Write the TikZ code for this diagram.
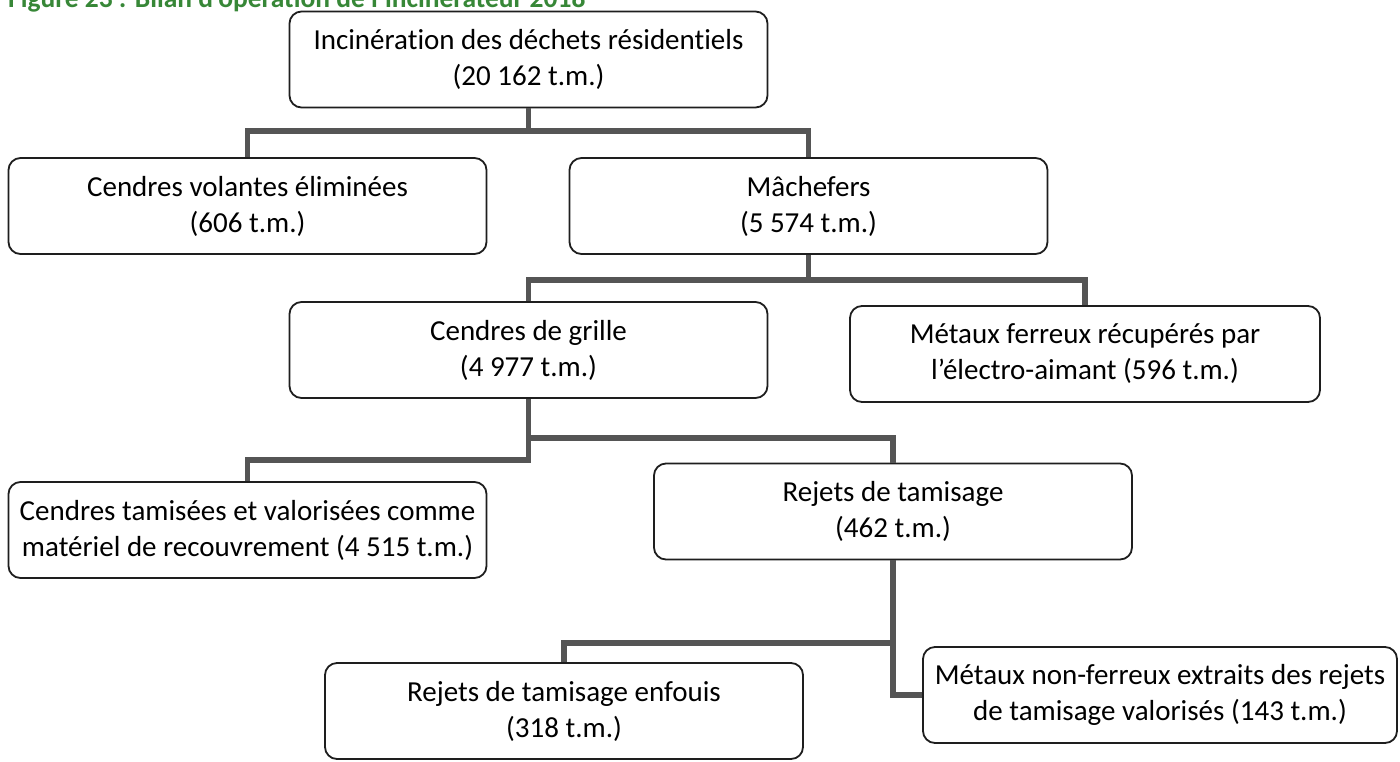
\documentclass[tikz,border=0pt]{standalone}
\usepackage{fontspec}
\setmainfont[Ligatures=NoCommon]{Carlito}
\definecolor{titlegreen}{RGB}{55,135,55}
\definecolor{conn}{RGB}{85,85,85}
\definecolor{boxline}{RGB}{30,30,30}
\tikzset{
  box/.style={draw=boxline, fill=white, rounded corners=12pt, line width=1.8pt,
    minimum width=478pt, minimum height=96pt, inner sep=0pt, align=center,
    font=\fontsize{29}{36}\selectfont},
  link/.style={draw=conn, line width=5.5pt, line join=miter},
}
\begin{document}
\begin{tikzpicture}[x=1pt, y=-1pt]
\useasboundingbox (0,0) rectangle (1400,761);
\clip (0,0) rectangle (1400,761);
\fill[white] (0,0) rectangle (1400,761);
\node[anchor=base west, inner sep=0pt, font=\fontsize{27.5}{32}\selectfont\bfseries, text=titlegreen] (title) at (8,7) {Figure 23 : Bilan d’opération de l’incinérateur 2018};

\coordinate (j1) at (528.5,131);
\coordinate (j2) at (808.5,280);
\coordinate (j3) at (528.5,438);
\coordinate (j3b) at (528.5,460);
\coordinate (j4) at (893,643);

\node[box] (n1) at (528.5,59.5) {Incinération des déchets résidentiels\\(20 162 t.m.)};
\node[box] (n2a) at (247.5,206) {Cendres volantes éliminées\\(606 t.m.)};
\node[box] (n2b) at (808.5,206) {Mâchefers\\(5 574 t.m.)};
\node[box] (n3a) at (528.5,350) {Cendres de grille\\(4 977 t.m.)};
\node[box, minimum width=470pt] (n3b) at (1085,354) {Métaux ferreux récupérés par\\l’électro-aimant (596 t.m.)};
\node[box] (n4a) at (247.5,530) {Cendres tamisées et valorisées comme\\matériel de recouvrement (4 515 t.m.)};
\node[box] (n4b) at (893,511.5) {Rejets de tamisage\\(462 t.m.)};
\node[box] (n5a) at (564,711) {Rejets de tamisage enfouis\\(318 t.m.)};
\node[box, minimum width=474pt] (n5b) at (1160,695) {Métaux non-ferreux extraits des rejets\\de tamisage valorisés (143 t.m.)};

\path[link] (n1.south) -- (j1) -| (n2a.north);
\path[link] (j1) -| (n2b.north);
\path[link] (n2b.south) -- (j2) -| (n3a.north);
\path[link] (j2) -| (n3b.north);
\path[link] (n3a.south) -- (j3b) -| (n4a.north);
\path[link] (j3) -| (n4b.north);
\path[link] (n4b.south) -- (j4) -| (n5a.north);
\path[link] (j4) |- (n5b.west);
\end{tikzpicture}
\end{document}
